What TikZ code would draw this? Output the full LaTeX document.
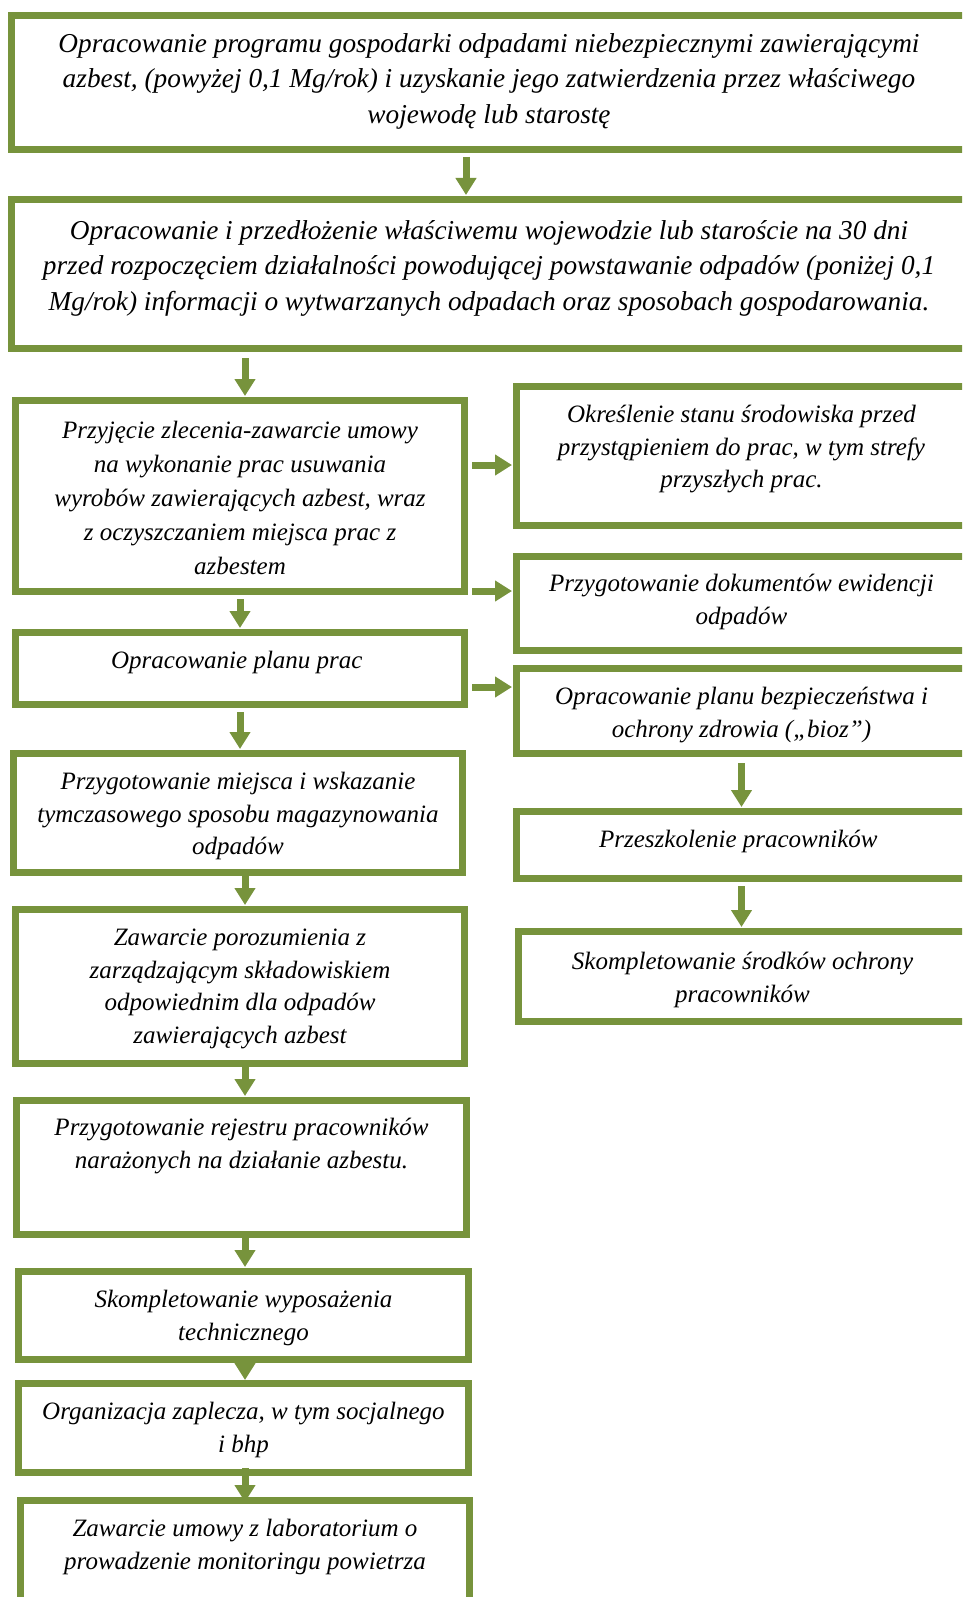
\documentclass[tikz,border=0pt]{standalone}
\usepackage{fontspec}
\setmainfont{Liberation Serif}
\usetikzlibrary{arrows.meta, positioning}
\definecolor{olivegreen}{RGB}{119,147,60}
\tikzset{
    stepbox/.style={
        rectangle,
        draw=olivegreen,
        line width=7pt,
        anchor=north west,
        inner sep=0pt
    },
    steptext/.style={
        anchor=north,
        align=center,
        inner sep=0pt,
        font=\itshape\fontsize{25}{32.5}\selectfont,
        execute at begin node={\rule{0pt}{20pt}}
    },
    widetext/.style={
        anchor=north,
        align=center,
        inner sep=0pt,
        font=\itshape\fontsize{27.3}{35.5}\selectfont,
        execute at begin node={\rule{0pt}{22pt}}
    },
    arrow/.style={
        draw=olivegreen,
        line width=7pt,
        -{Triangle[width=20pt,length=17pt]},
        shorten <=4pt,
        shorten >=1pt
    },
}
\begin{document}
\begin{tikzpicture}[x=1pt, y=-1pt]

\fill[white] (0,0) rectangle (962,1597);
\useasboundingbox (0,0) rectangle (962,1597);
\clip (0,0) rectangle (962,1597);

% Top boxes
\node[stepbox, minimum width=955pt, minimum height=134pt] (b1) at (8,12) {};
\node[widetext] (t1) at ([yshift=-21pt]b1.north) {
    Opracowanie programu gospodarki odpadami niebezpiecznymi zawierającymi\\
    azbest, (powyżej 0,1 Mg/rok) i uzyskanie jego zatwierdzenia przez właściwego\\
    wojewodę lub starostę
};

\node[stepbox, minimum width=955pt, minimum height=149pt] (b2) at (8,196) {};
\node[widetext] (t2) at ([yshift=-24pt]b2.north) {
    Opracowanie i przedłożenie właściwemu wojewodzie lub staroście na 30 dni\\
    przed rozpoczęciem działalności powodującej powstawanie odpadów (poniżej 0,1\\
    Mg/rok) informacji o wytwarzanych odpadach oraz sposobach gospodarowania.
};

% Left column
\node[stepbox, minimum width=449pt, minimum height=191pt] (b3) at (12,397) {};
\node[steptext, font=\itshape\fontsize{25}{34}\selectfont] (t3) at ([yshift=-24pt]b3.north) {
    Przyjęcie zlecenia-zawarcie umowy\\
    na wykonanie prac usuwania\\
    wyrobów zawierających azbest, wraz\\
    z oczyszczaniem miejsca prac z\\
    azbestem
};

\node[stepbox, minimum width=449pt, minimum height=72pt] (b4) at (12,629) {};
\node[steptext] (t4) at ([yshift=-19pt]b4.north) {
    Opracowanie planu prac
};

\node[stepbox, minimum width=449pt, minimum height=119pt] (b5) at (10,750) {};
\node[steptext] (t5) at ([yshift=-22pt]b5.north) {
    Przygotowanie miejsca i wskazanie\\
    tymczasowego sposobu magazynowania\\
    odpadów
};

\node[stepbox, minimum width=449pt, minimum height=154pt] (b6) at (12,906) {};
\node[steptext] (t6) at ([yshift=-23pt]b6.north) {
    Zawarcie porozumienia z\\
    zarządzającym składowiskiem\\
    odpowiednim dla odpadów\\
    zawierających azbest
};

\node[stepbox, minimum width=450pt, minimum height=134pt] (b7) at (13,1097) {};
\node[steptext] (t7) at ([yshift=-21pt]b7.north) {
    Przygotowanie rejestru pracowników\\
    narażonych na działanie azbestu.
};

\node[stepbox, minimum width=450pt, minimum height=88pt] (b8) at (15,1268) {};
\node[steptext] (t8) at ([yshift=-22pt]b8.north) {
    Skompletowanie wyposażenia\\
    technicznego
};

\node[stepbox, minimum width=450pt, minimum height=89pt] (b9) at (15,1380) {};
\node[steptext] (t9) at ([yshift=-22pt]b9.north) {
    Organizacja zaplecza, w tym socjalnego\\
    i bhp
};

\node[stepbox, minimum width=449pt, minimum height=150pt] (b10) at (17,1497) {};
\node[steptext] (t10) at ([yshift=-22pt]b10.north) {
    Zawarcie umowy z laboratorium o\\
    prowadzenie monitoringu powietrza
};

% Right column
\node[stepbox, minimum width=450pt, minimum height=139pt] (r1) at (513,383) {};
\node[steptext] (s1) at ([yshift=-22pt]r1.north) {
    Określenie stanu środowiska przed\\
    przystąpieniem do prac, w tym strefy\\
    przyszłych prac.
};

\node[stepbox, minimum width=450pt, minimum height=94pt] (r2) at (513,553) {};
\node[steptext] (s2) at ([yshift=-21pt]r2.north) {
    Przygotowanie dokumentów ewidencji\\
    odpadów
};

\node[stepbox, minimum width=450pt, minimum height=85pt] (r3) at (513,665) {};
\node[steptext] (s3) at ([yshift=-22pt]r3.north) {
    Opracowanie planu bezpieczeństwa i\\
    ochrony zdrowia („bioz”)
};

\node[stepbox, minimum width=450pt, minimum height=67pt] (r4) at (513,808) {};
\node[steptext] (s4) at ([yshift=-19pt]r4.north) {
    Przeszkolenie pracowników
};

\node[stepbox, minimum width=448pt, minimum height=90pt] (r5) at (515,928) {};
\node[steptext] (s5) at ([yshift=-24pt]r5.north) {
    Skompletowanie środków ochrony\\
    pracowników
};

% Arrows
\draw[arrow] ([xshift=458pt]b1.south west) -- ([xshift=458pt]b2.north west);
\draw[arrow, shorten <=6pt] ([xshift=5pt]b3.north |- b2.south) -- ([xshift=5pt]b3.north);
\draw[arrow] (b3) -- (b4);
\draw[arrow] (b4.south) -- (b4.south |- b5.north);
\draw[arrow, shorten <=0pt] ([xshift=7pt]b5.south) -- ([xshift=7pt]b5.south |- b6.north);
\draw[arrow, shorten <=0pt] ([xshift=5pt]b6.south) -- ([xshift=5pt]b6.south |- b7.north);
\draw[arrow, shorten <=0pt] ([xshift=3.5pt]b7.south) -- ([xshift=3.5pt]b7.south |- b8.north);
\draw[arrow, shorten <=0pt, shorten >=0pt] ([xshift=1.5pt]b8.south) -- ([xshift=1.5pt]b8.south |- b9.north);
\draw[arrow, shorten <=-8pt, shorten >=-5pt] ([xshift=1.5pt]b9.south) -- ([xshift=1.5pt]b9.south |- b10.north);

\draw[arrow] ([yshift=-9pt]r1.west -| b3.east) -- ([yshift=-9pt]r1.west);
\draw[arrow] ([yshift=12.5pt]r2.west -| b3.east) -- ([yshift=12.5pt]r2.west);
\draw[arrow] ([yshift=24pt]r3.west -| b4.east) -- ([yshift=24pt]r3.west);

\draw[arrow, shorten <=6pt] (r3) -- (r4);
\draw[arrow] (r4.south) -- (r4.south |- r5.north);

\end{tikzpicture}
\end{document}
